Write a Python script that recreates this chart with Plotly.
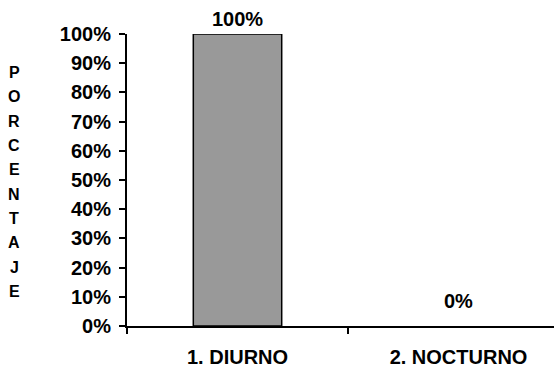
import plotly.graph_objects as go

categories = ["1. DIURNO", "2. NOCTURNO"]
values = [1.0, 0.0]
value_labels = ["100%", "0%"]
tick_vals = [i / 10 for i in range(11)]
tick_text = [f"{i*10}%" for i in range(11)]
ytitle_letters = list("PORCENTAJE")

FONT = "Arial, Liberation Sans, sans-serif"
BOLD = dict(family=FONT, size=20, color="black", weight="bold")

W, H = 554, 371
L, R, T, B = 127, 0, 33.5, 45
pw, ph = W - L - R, H - T - B

fig = go.Figure()
fig.add_trace(go.Bar(
    x=categories, y=values, width=0.40,
    marker=dict(color="#999999", line=dict(color="black", width=[1.5 if v > 0 else 0 for v in values])),
    showlegend=False, hoverinfo="skip",
))

label_shifts = [2, 12]
for c, v, t, s in zip(categories, values, value_labels, label_shifts):
    fig.add_annotation(x=c, y=v, text=t, showarrow=False,
                       xref="x", yref="y", yanchor="bottom", yshift=s,
                       font=BOLD)

for i, ch in enumerate(ytitle_letters):
    px_x = 14
    px_y = 72 + i * 24.4
    fig.add_annotation(x=(px_x - L) / pw, xref="paper", y=(H - B - px_y) / ph, yref="paper",
                       xanchor="center", yanchor="middle",
                       text=ch, showarrow=False,
                       font=dict(family=FONT, size=16, color="black", weight="bold"))

fig.update_layout(
    width=W, height=H,
    margin=dict(l=L, r=R, t=T, b=B, autoexpand=False),
    plot_bgcolor="white", paper_bgcolor="white",
    font=dict(family=FONT, color="black"),
)
fig.update_xaxes(
    range=[-0.5, 1.432], showline=True, linecolor="black", linewidth=2,
    ticks="outside", tickson="boundaries", ticklen=6, tickwidth=2, tickcolor="black",
    showgrid=False, tickfont=BOLD, automargin=False, ticklabelstandoff=12,
    tickvals=[0, 1], ticktext=categories,
)
fig.update_yaxes(
    range=[0, 1], tickvals=tick_vals, ticktext=tick_text,
    showline=True, linecolor="black", linewidth=2,
    ticks="outside", ticklen=6, tickwidth=2, tickcolor="black",
    showgrid=False, zeroline=False, automargin=False, ticklabelstandoff=4,
    tickfont=BOLD,
)

fig.write_html(
    "out.html",
    config={"displayModeBar": False, "staticPlot": True},
    post_script="document.body.style.margin='0';document.body.style.overflow='hidden';",
)
